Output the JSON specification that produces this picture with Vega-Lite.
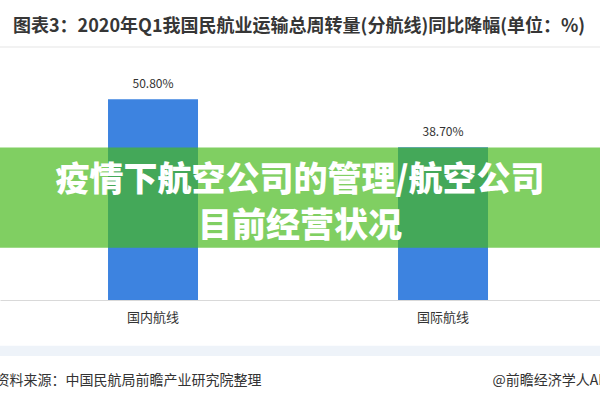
{
  "$schema": "https://vega.github.io/schema/vega-lite/v6.json",
  "autosize": {"type": "none"},
  "width": 600,
  "height": 237,
  "padding": {"left": 0, "right": 0, "top": 63, "bottom": 100},
  "background": "white",
  "config": {
    "font": "Noto Sans CJK SC",
    "view": {"stroke": null}
  },
  "title": {
    "text": "图表3：2020年Q1我国民航业运输总周转量(分航线)同比降幅(单位：%)",
    "anchor": "start",
    "frame": "group",
    "dx": 13,
    "offset": -8,
    "baseline": "bottom",
    "fontSize": 18,
    "fontWeight": "bold",
    "color": "#363636",
    "font": "Noto Sans CJK SC"
  },
  "datasets": {
    "routes": [
      {"route": "国内航线", "value": 50.8, "label": "50.80%"},
      {"route": "国际航线", "value": 38.7, "label": "38.70%"}
    ],
    "one": [{"k": 1}]
  },
  "layer": [
    {
      "data": {"name": "one"},
      "mark": {"type": "rule", "color": "#eeeeee", "strokeWidth": 1.5},
      "encoding": {"y": {"datum": 64.05, "type": "quantitative"}, "x": {"value": 0}, "x2": {"value": 600}}
    },
    {
      "data": {"name": "one"},
      "mark": {"type": "rect", "color": "#eef3f9"},
      "encoding": {"y": {"datum": -11.6, "type": "quantitative"}, "y2": {"datum": -14.2}, "x": {"value": 0}, "x2": {"value": 600}}
    },
    {
      "data": {"name": "routes"},
      "mark": {"type": "bar", "color": "#3d83e0"},
      "encoding": {
        "x": {
          "field": "route",
          "type": "nominal",
          "sort": null,
          "scale": {"paddingInner": 0.6897, "paddingOuter": 0.3793, "align": 0.491},
          "axis": {
            "labelAngle": 0,
            "labelFontSize": 13,
            "labelColor": "#333333",
            "labelPadding": 11,
            "ticks": false,
            "domainColor": "#d9d9d9",
            "domainWidth": 1,
            "grid": false,
            "title": "资料来源：中国民航局前瞻产业研究院整理",
            "titleFontSize": 14,
            "titleFontWeight": "normal",
            "titleColor": "#333333",
            "titleAlign": "left",
            "titleBaseline": "middle",
            "titleX": -5,
            "titleY": 80
          }
        },
        "y": {
          "field": "value",
          "type": "quantitative",
          "scale": {"domain": [0, 60], "nice": false, "zero": true},
          "axis": {
            "orient": "right",
            "labels": false,
            "ticks": false,
            "domain": false,
            "grid": false,
            "title": "@前瞻经济学人APP",
            "titleAngle": 0,
            "titleFontSize": 14,
            "titleFontWeight": "normal",
            "titleColor": "#333333",
            "titleAlign": "left",
            "titleBaseline": "middle",
            "titleX": -108,
            "titleY": 317
          }
        }
      }
    },
    {
      "data": {"name": "routes"},
      "mark": {"type": "text", "baseline": "bottom", "dy": -8, "fontSize": 12, "color": "#333333"},
      "encoding": {
        "x": {"field": "route", "type": "nominal", "sort": null},
        "y": {"field": "value", "type": "quantitative"},
        "text": {"field": "label"}
      }
    },
    {
      "data": {"name": "one"},
      "mark": {"type": "rect", "color": "#47b91b", "fillOpacity": 0.69},
      "encoding": {"y": {"datum": 38.6, "type": "quantitative"}, "y2": {"datum": 13.2}, "x": {"value": 0}, "x2": {"value": 600}}
    },
    {
      "data": {"name": "one"},
      "mark": {
        "type": "text",
        "align": "center",
        "baseline": "middle",
        "fontSize": 34,
        "fontWeight": 900,
        "lineHeight": 46,
        "color": "white"
      },
      "encoding": {
        "y": {"datum": 30.1, "type": "quantitative"},
        "x": {"value": 300},
        "text": {"value": ["疫情下航空公司的管理/航空公司", "目前经营状况"]}
      }
    }
  ]
}
